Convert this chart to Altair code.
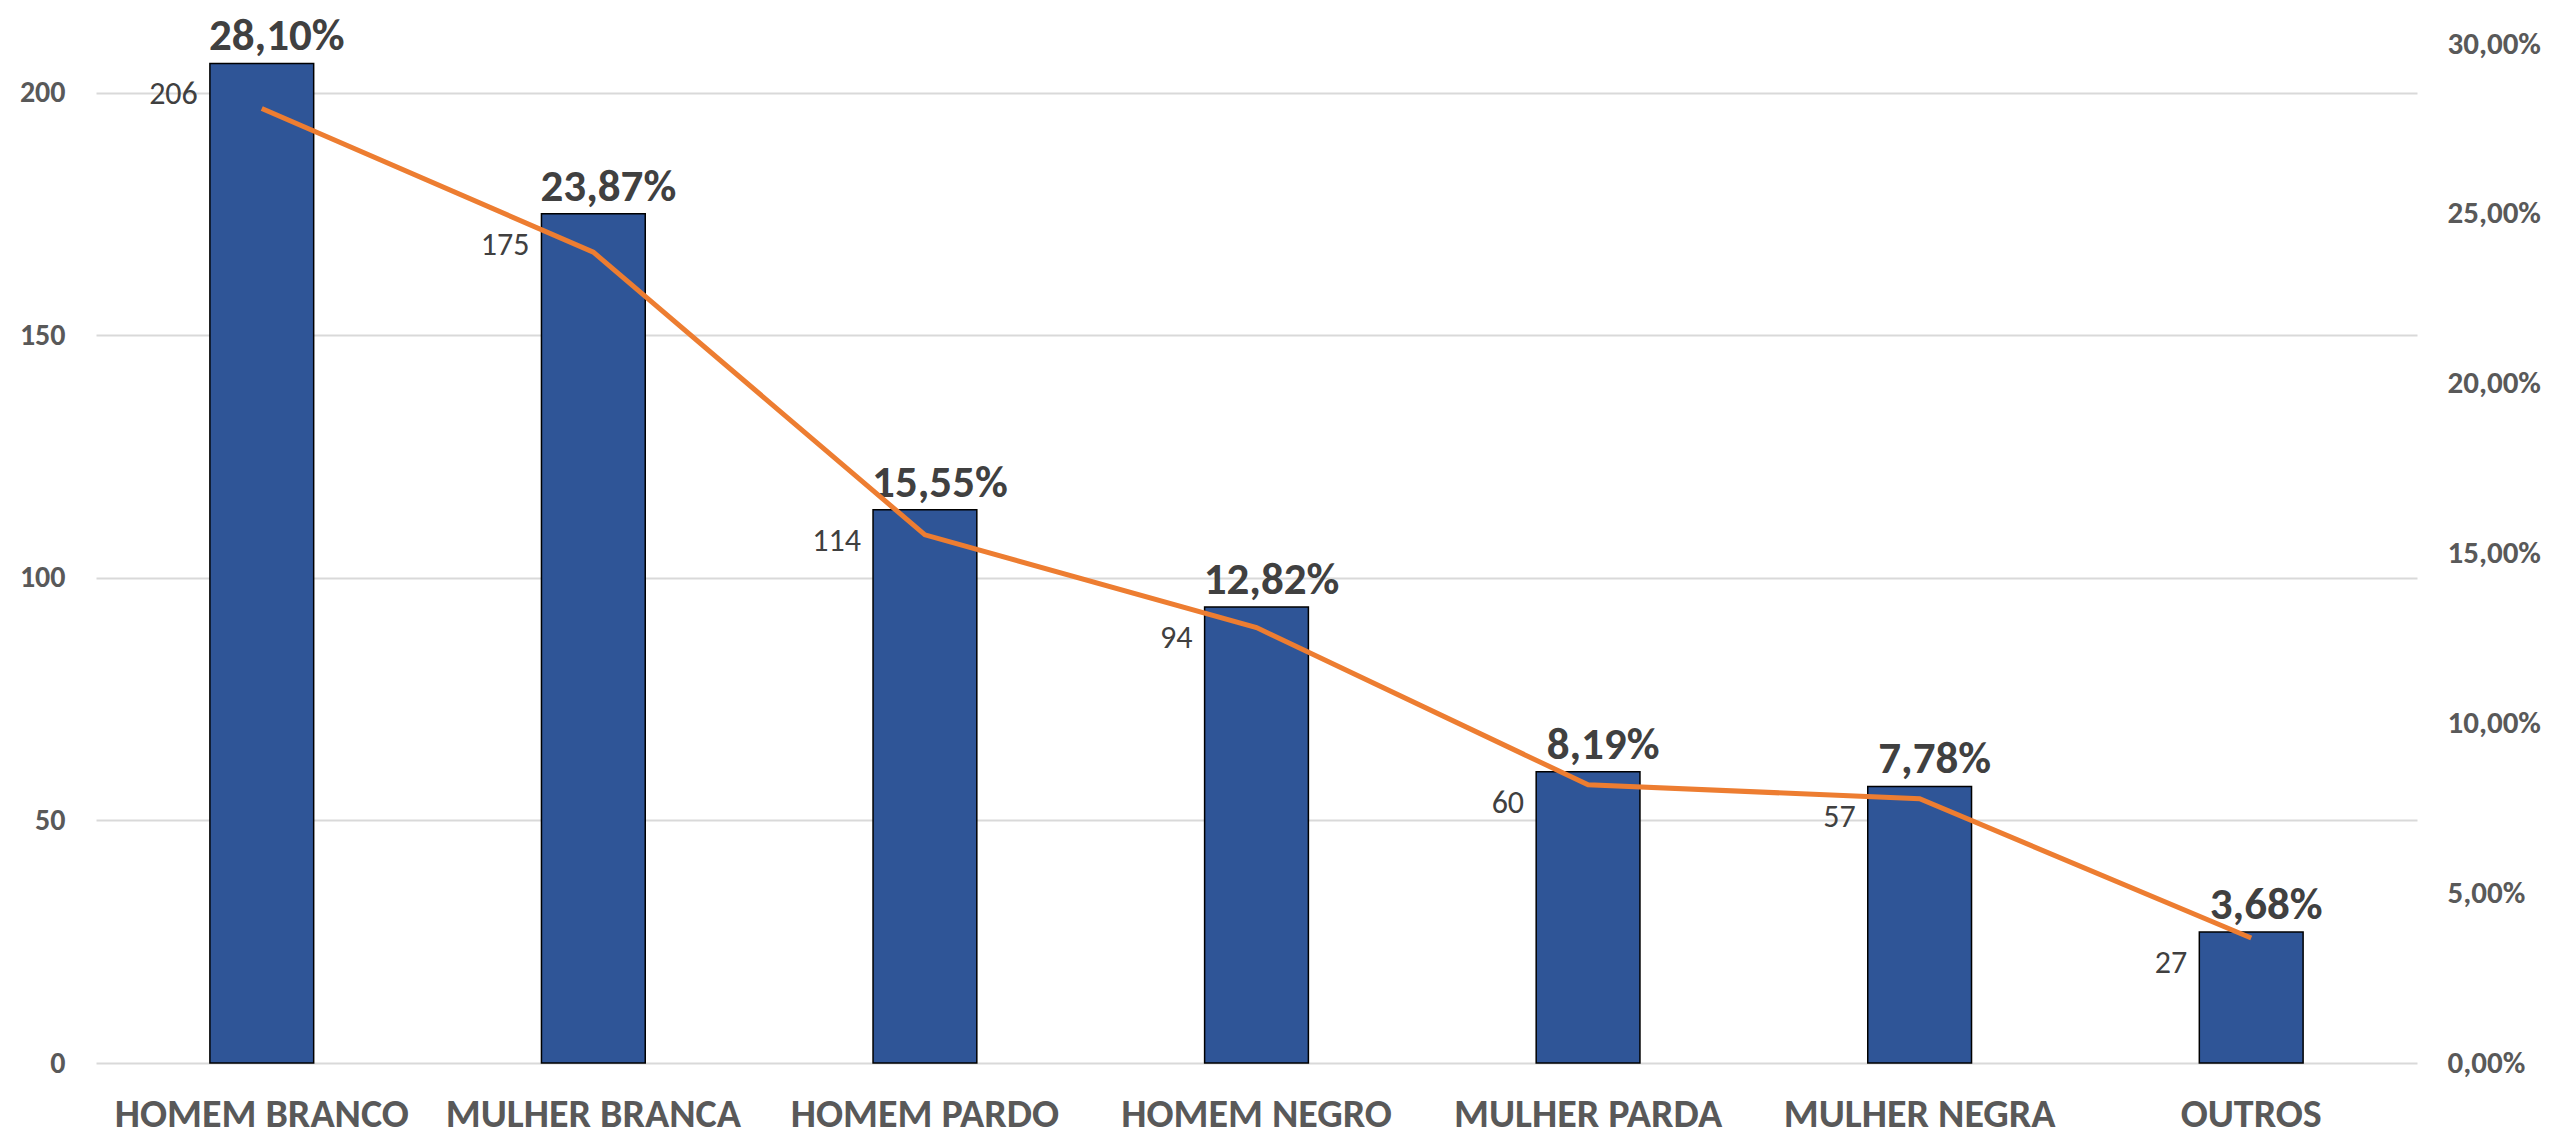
import altair as alt
import pandas as pd

categorias = ["HOMEM BRANCO", "MULHER BRANCA", "HOMEM PARDO", "HOMEM NEGRO",
              "MULHER PARDA", "MULHER NEGRA", "OUTROS"]
quantidades = [206, 175, 114, 94, 60, 57, 27]
percentuais = [28.10, 23.87, 15.55, 12.82, 8.19, 7.78, 3.68]

left_ticks = [0, 50, 100, 150, 200]
right_ticks = [0, 0.05, 0.10, 0.15, 0.20, 0.25, 0.30]

df = pd.DataFrame({"cat": categorias, "n": quantidades, "pct": percentuais})
df["frac"] = df["pct"] / 100.0

FONT = "Carlito, Lato"
AXIS_GRAY = "#595959"
TEXT_DARK = "#404040"

x_enc = alt.X("cat:N", sort=categorias, title=None,
              scale=alt.Scale(paddingInner=0.687, paddingOuter=0.3435),
              axis=alt.Axis(labelAngle=0, labelFont=FONT, labelFontSize=40,
                            labelFontWeight="bold", labelColor=AXIS_GRAY,
                            labelBaseline="alphabetic", labelPadding=63,
                            labelLimit=0, labelOverlap=False,
                            ticks=False, domain=False, grid=False))

y_left = alt.Y("n:Q", title=None,
               scale=alt.Scale(domain=[0, 210], nice=False),
               axis=alt.Axis(orient="left", values=left_ticks, labelFont=FONT,
                             labelFontSize=30, labelFontWeight="bold",
                             labelColor=AXIS_GRAY, labelPadding=31,
                             ticks=False, domain=False, grid=True,
                             gridColor="#D9D9D9", gridWidth=2))

base = alt.Chart(df)

bars = base.mark_bar(color="#2F5597", stroke="#000000", strokeWidth=1.5).encode(
    x=x_enc, y=y_left)

value_labels = base.mark_text(font=FONT, fontSize=32, color=TEXT_DARK,
                              align="right", baseline="middle", dx=-64, dy=31).encode(
    x=alt.X("cat:N", sort=categorias), y=alt.Y("n:Q"), text=alt.Text("n:Q"))

pct_labels = base.transform_calculate(
    lbl="replace(format(datum.frac, '.2%'), '.', ',')"
).mark_text(font=FONT, fontSize=45, fontWeight="bold", color=TEXT_DARK,
            align="center", baseline="alphabetic", dx=15, dy=-13).encode(
    x=alt.X("cat:N", sort=categorias), y=alt.Y("n:Q"), text="lbl:N")

left_layer = alt.layer(bars, value_labels, pct_labels)

line = base.mark_line(color="#ED7D31", strokeWidth=5).encode(
    x=alt.X("cat:N", sort=categorias),
    y=alt.Y("frac:Q", title=None,
            scale=alt.Scale(domain=[0, 0.30], nice=False),
            axis=alt.Axis(orient="right", values=right_ticks, labelFont=FONT,
                          labelFontSize=31, labelFontWeight="bold",
                          labelColor=AXIS_GRAY, labelPadding=30,
                          labelExpr="replace(format(datum.value, '.2%'), '.', ',')",
                          ticks=False, domain=False, grid=False)))

chart = alt.layer(left_layer, line).resolve_scale(y="independent").properties(
    width=2321, height=1019,
    autosize=alt.AutoSizeParams(type="none"),
    padding={"left": 88, "top": 36, "right": 127, "bottom": 76},
).configure_view(stroke=None)

chart.save("out.html", embed_options={"renderer": "svg", "actions": False})
